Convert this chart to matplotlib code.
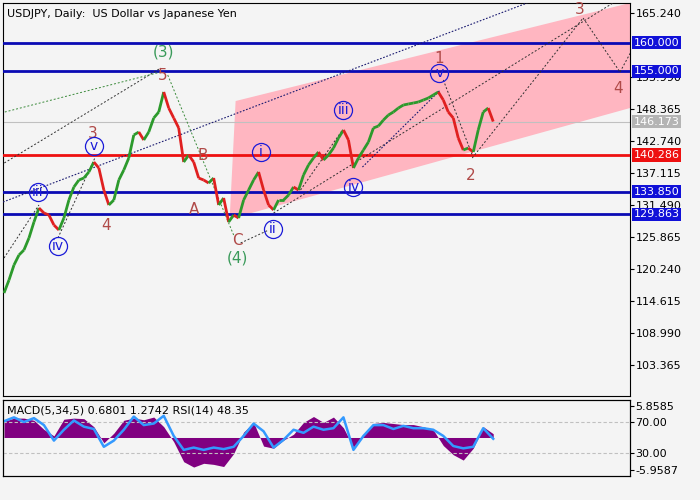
import matplotlib
matplotlib.use('Agg')
import matplotlib.pyplot as plt
from matplotlib.collections import LineCollection
from matplotlib.transforms import blended_transform_factory
import numpy as np

# weekly closes, USDJPY daily chart (one value every 5 bars)
closes = [116.03, 118.31, 120.95, 122.71, 123.59, 125.70, 128.51, 130.97, 130.09, 129.74,
          127.98, 127.10, 129.21, 132.37, 134.66, 135.89, 136.24, 137.30, 139.05, 138.00,
          134.13, 131.50, 132.37, 135.89, 137.65, 139.76, 143.80, 144.33, 142.92, 144.33,
          146.79, 147.84, 151.36, 148.54, 146.79, 145.03, 139.05, 140.28, 139.05, 136.24,
          135.89, 135.36, 136.24, 131.50, 132.73, 128.51, 129.74, 129.21, 132.37, 134.13,
          135.89, 137.30, 134.13, 131.50, 130.62, 132.37, 132.37, 133.25, 134.66, 134.13,
          136.77, 138.53, 139.76, 140.81, 139.40, 140.28, 141.51, 143.27, 144.68, 142.92,
          138.00, 139.76, 141.16, 142.57, 145.03, 145.38, 146.43, 147.31, 147.84, 148.54,
          149.07, 149.25, 149.42, 149.60, 149.95, 150.30, 150.83, 151.36, 149.95, 147.84,
          146.79, 143.27, 141.16, 141.51, 140.81, 144.68, 147.84, 148.54, 146.17]
close_step = 5

# MACD histogram and RSI, one value every 10 bars
macd = [3.0, 3.6, 3.6, 3.2, 1.5, 0.3, 3.4, 3.6, 3.5, 2.0,
        -1.0, 0.8, 3.2, 3.6, 3.3, 3.8, 2.0, -0.8, -4.5, -5.5,
        -4.8, -5.0, -5.4, -3.0, 1.0, 2.8, -1.6, -2.0, -0.5, 0.6,
        2.8, 3.9, 2.8, 3.8, 1.8, -1.8, 0.5, 2.6, 2.8, 2.6,
        2.4, 2.4, 2.0, 1.4, -1.5, -3.2, -4.2, -2.0, 2.0, 0.7]
rsi = [71, 76, 70, 75, 66, 46, 60, 72, 64, 61,
       38, 46, 60, 77, 66, 68, 78, 52, 34, 37,
       34, 37, 35, 38, 52, 68, 58, 37, 47, 60,
       56, 64, 60, 62, 76, 34, 52, 66, 66, 61,
       65, 62, 62, 60, 52, 39, 36, 38, 62, 48.35]
ind_step = 10

blue_levels = [160.000, 155.000, 133.850, 129.863]
red_level = 140.286
last_price = 146.173
price_ticks = [165.240, 153.990, 148.365, 142.740, 137.115, 131.490,
               125.865, 120.240, 114.615, 108.990, 103.365]

date_bars = [0, 127, 255, 383]
date_labels = ['9 Mar 2022', '5 Sep 2022', '3 Mar 2023', '30 Aug 2023']

# rising channel (bar, price)
channel_bars = [232, 627, 627, 226]
channel_prices = [149.77, 167.0, 148.54, 129.03]

# wave labels
brown_labels = ['5', '3', '4', 'B', 'A', 'C', '1', '2', '3', '4']
brown_bars = [159, 89, 102, 199, 190, 234, 436, 467, 577, 615]
brown_prices = [154.34, 144.15, 127.98, 140.28, 130.79, 125.34, 157.33, 136.77, 165.94, 152.06]
green_labels = ['(3)', '(4)']
green_bars = [160, 234]
green_prices = [158.39, 122.18]
circ_labels = ['iii', 'iv', 'v', 'i', 'ii', 'iii', 'iv', 'v']
circ_bars = [34, 54, 90, 257, 269, 340, 350, 436]
circ_prices = [133.78, 124.29, 141.86, 140.81, 127.28, 148.19, 134.66, 154.70]

# dashed guide lines ((bar0, price0), (bar1, price1))
black_lines = [((-3, 138.53), (157, 155.57)),
               ((0, 122.18), (35, 131.50)),
               ((54, 125.70), (91, 139.76)),
               ((237, 124.82), (265, 127.09)),
               ((297, 134.13), (339, 144.68)),
               ((270, 130.09), (610, 167.0)),
               ((440, 153.47), (469, 140.28)),
               ((469, 139.76), (580, 164.36)),
               ((580, 164.36), (617, 154.87)),
               ((617, 154.87), (629, 158.74))]
navy_lines = [((-1, 132.02), (524, 167.0)),
              ((359, 138.17), (437, 151.71))]
green_lines = [((-3, 147.67), (157, 154.87)),
               ((164, 154.34), (230, 126.22))]

bg = '#f4f4f4'
fig = plt.figure(figsize=(7, 5), dpi=100, facecolor=bg)
ax = fig.add_axes([3 / 700, 1 - 396 / 500, 627 / 700, 393 / 500], facecolor=bg)
axs = fig.add_axes([3 / 700, 1 - 476 / 500, 627 / 700, 76 / 500], facecolor=bg)

xmin, xmax = -1, 627
ax.set_xlim(xmin, xmax)
ax.set_ylim(97.93, 167.0)

ax.fill(channel_bars, channel_prices, color='#ffb6c1', lw=0, zorder=1)

trans = blended_transform_factory(ax.transAxes, ax.transData)
ax.axhline(last_price, color='#c0c0c0', lw=0.8, zorder=2)
for lv in blue_levels:
    ax.axhline(lv, color='#0a0ab4', lw=2, zorder=3)
ax.axhline(red_level, color='#ee1010', lw=2, zorder=3)

for (b0, p0), (b1, p1) in black_lines:
    ax.plot([b0, b1], [p0, p1], color='#303030', lw=0.7, ls=(0, (2, 2)), zorder=4)
for (b0, p0), (b1, p1) in navy_lines:
    ax.plot([b0, b1], [p0, p1], color='#1a1a70', lw=0.8, ls=(0, (1.5, 1.5)), zorder=4)
for (b0, p0), (b1, p1) in green_lines:
    ax.plot([b0, b1], [p0, p1], color='#3a8a3a', lw=0.7, ls=(0, (2, 2)), zorder=4)

# price path
xs = np.arange(len(closes)) * close_step
pts = np.column_stack([xs, closes])
segs = np.stack([pts[:-1], pts[1:]], axis=1)
cols = ['#2c9a2c' if b >= a else '#e02020' for a, b in zip(closes[:-1], closes[1:])]
ax.add_collection(LineCollection(segs, colors=cols, linewidths=2.0, zorder=5))

for t, b, p in zip(brown_labels, brown_bars, brown_prices):
    ax.text(b, p, t, color='#b04a48', fontsize=11, ha='center', va='center', zorder=6)
for t, b, p in zip(green_labels, green_bars, green_prices):
    ax.text(b, p, t, color='#3a9a5a', fontsize=11, ha='center', va='center', zorder=6)
ax.plot(circ_bars, circ_prices, 'o', ms=13, mfc='none', mec='#1a1ad8', mew=0.9, zorder=6)
for t, b, p in zip(circ_labels, circ_bars, circ_prices):
    ax.text(b, p, t, color='#1a1ad8', fontsize=10, ha='center', va='center', zorder=6)

ax.text(0.006, 0.985, 'USDJPY, Daily:  US Dollar vs Japanese Yen', transform=ax.transAxes,
        fontsize=8, va='top', ha='left')

ax.yaxis.tick_right()
ax.set_yticks(price_ticks)
ax.set_yticklabels(['%.3f' % t for t in price_ticks], fontsize=8)
ax.tick_params(axis='y', length=3, pad=1)
ax.set_xticks([])

for lv, fc in [(160.000, '#1010d8'), (155.000, '#1010d8'), (133.850, '#1010d8'),
               (129.863, '#1010d8'), (red_level, '#ee1010'), (last_price, '#b4b4b4')]:
    ax.text(1.006, lv, '%.3f' % lv, transform=trans, fontsize=8, color='white', ha='left', va='center',
            bbox=dict(boxstyle='square,pad=0.15', fc=fc, ec='none'), zorder=10, clip_on=False)

# indicator panel
axs.set_xlim(xmin, xmax)
axs.set_ylim(0.3, 98.4)
ix = np.arange(len(rsi)) * ind_step
axm = axs.twinx()
axm.set_ylim(-7.16, 6.97)
axm.fill_between(ix, 0, macd, color='#800080', lw=0, zorder=1)
axs.set_zorder(axm.get_zorder() + 1)
axs.patch.set_visible(False)
axm.patch.set_facecolor(bg)
axs.axhline(70, color='#c0c0c0', lw=0.8, ls=(0, (3, 2)))
axs.axhline(30, color='#c0c0c0', lw=0.8, ls=(0, (3, 2)))
axs.plot(ix, rsi, color='#3399ff', lw=1.8)
axs.text(0.006, 0.93, 'MACD(5,34,5) 0.6801 1.2742 RSI(14) 48.35', transform=axs.transAxes,
         fontsize=8, va='top', ha='left')
axs.yaxis.tick_right()
axs.set_yticks([70, 30])
axs.set_yticklabels(['70.00', '30.00'], fontsize=8)
axm.set_yticks([5.8585, -5.9587])
axm.set_yticklabels(['5.8585', '-5.9587'], fontsize=8)
for a in (axs, axm):
    a.tick_params(axis='y', length=3, pad=1)
axs.set_xticks(date_bars)
axs.set_xticklabels(date_labels, fontsize=8, ha='left')
axs.tick_params(axis='x', length=4, pad=2)
axm.set_xticks([])

fig.savefig('out.png', dpi=100, facecolor=bg)
